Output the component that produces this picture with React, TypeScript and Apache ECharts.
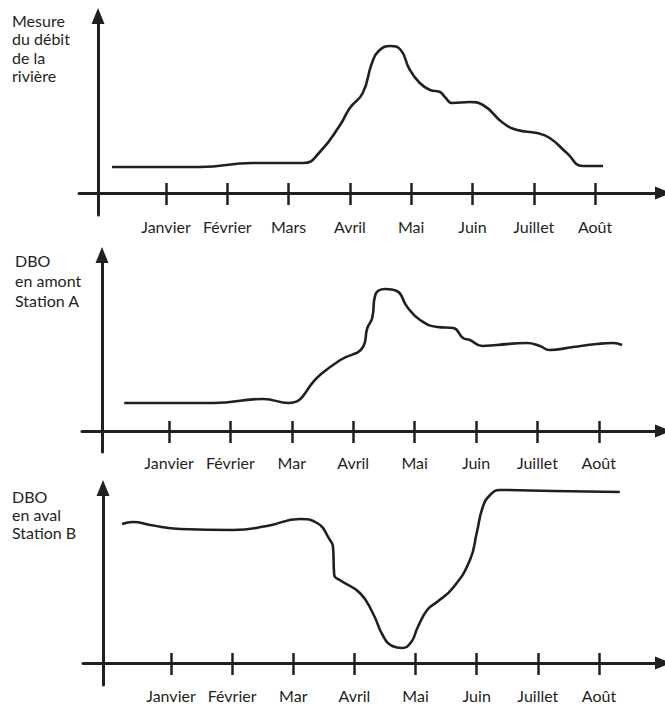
import React, { useEffect, useRef } from "react";
import * as echarts from "echarts";

// Month positions on the time axis (Janvier = 1 ... Août = 8)
const monthTicks = [1, 2, 3, 4, 5, 6, 7, 8];
const monthLabelsTop = ["Janvier", "Février", "Mars", "Avril", "Mai", "Juin", "Juillet", "Août"];
const monthLabelsLower = ["Janvier", "Février", "Mar", "Avril", "Mai", "Juin", "Juillet", "Août"];

// Panel titles
const titleFlow = "Mesure\ndu débit\nde la\nrivière";
const titleUp = "DBO\nen amont\nStation A";
const titleDown = "DBO\nen aval\nStation B";

// Panel 1: river flow (relative level)
const flowMonths = [0.12, 1.55, 2.42, 3.24, 3.51, 3.84, 4.0, 4.21, 4.36, 4.47, 4.66, 4.83, 4.97, 5.14, 5.31, 5.47, 5.55, 5.67, 5.96, 6.17, 6.5, 6.73, 7.05, 7.26, 7.54, 7.8, 8.13];
const flowLevels = [26, 26, 30, 30, 41, 68, 85, 100, 130, 142, 147, 143, 124, 110, 103, 101, 96, 90, 91, 88, 70, 63, 60, 55, 40, 27, 27];

// Panel 2: BOD upstream, station A (relative level)
const upMonths = [0.27, 1.72, 2.53, 2.94, 3.46, 3.79, 4.16, 4.23, 4.31, 4.36, 4.52, 4.71, 4.88, 5.09, 5.37, 5.63, 5.79, 5.9, 6.1, 6.34, 6.83, 7.04, 7.2, 7.58, 7.97, 8.23, 8.38];
const upLevels = [28, 28, 32, 28, 56, 71, 84, 103, 113, 136, 142, 140, 124, 111, 104, 103, 93, 91, 85, 86, 88, 85, 81, 84, 87, 88, 86];

// Panel 3: BOD downstream, station B (relative level)
const downMonths = [0.2, 0.38, 0.66, 1.15, 2.01, 2.57, 3.11, 3.39, 3.6, 3.65, 3.67, 3.76, 4.09, 4.3, 4.47, 4.62, 4.78, 4.93, 5.03, 5.19, 5.35, 5.61, 5.89, 6.0, 6.1, 6.22, 6.38, 7.25, 8.34];
const downLevels = [139, 141, 138, 134, 133, 137, 144, 140, 123, 116, 88, 83, 70, 50, 27, 17, 15, 21, 35, 53, 61, 75, 103, 130, 156, 168, 173, 172, 171];

const INK = "#231f20";
const FONT = "Lato, 'Open Sans', sans-serif";

type Panel = {
  left: number; width: number; top: number; height: number;
  xMin: number; xMax: number; yMin: number; yMax: number;
  yAxisShift: number; xAxisShift: number; labelMargin: number;
  labels: string[];
};

const panels: Panel[] = [
  { left: 79, width: 584, top: 16, height: 199, xMin: -0.419, xMax: 9.108, yMin: -22, yMax: 177, yAxisShift: 19, xAxisShift: 22, labelMargin: 25, labels: monthLabelsTop },
  { left: 82, width: 581, top: 255, height: 197, xMin: -0.417, xMax: 9.046, yMin: -21, yMax: 176, yAxisShift: 20, xAxisShift: 21, labelMargin: 23, labels: monthLabelsLower },
  { left: 83, width: 580, top: 488, height: 197, xMin: -0.439, xMax: 9.047, yMin: -22, yMax: 175, yAxisShift: 20, xAxisShift: 22, labelMargin: 24, labels: monthLabelsLower },
];

const seriesData = [
  flowMonths.map((m, i) => [m, flowLevels[i]]),
  upMonths.map((m, i) => [m, upLevels[i]]),
  downMonths.map((m, i) => [m, downLevels[i]]),
];

export default function App() {
  const ref = useRef<HTMLDivElement>(null);
  useEffect(() => {
    if (!ref.current) return;
    const chart = echarts.init(ref.current, null, { renderer: "svg" });

    const grid = panels.map((p) => ({ left: p.left, width: p.width, top: p.top, height: p.height, containLabel: false }));
    const xAxis: any[] = [];
    const yAxis: any[] = [];
    panels.forEach((p, gi) => {
      xAxis.push({
        type: "value", gridIndex: gi, min: p.xMin, max: p.xMax, position: "bottom", offset: -p.xAxisShift,
        axisLine: { show: true, onZero: false, symbol: ["none", "triangle"], symbolSize: [13, 16], lineStyle: { color: INK, width: 3 } },
        axisTick: { show: true, inside: false, length: 12, customValues: monthTicks, lineStyle: { color: INK, width: 2.5 } },
        axisLabel: {
          show: true, customValues: monthTicks, margin: p.labelMargin, fontSize: 16, fontFamily: FONT, color: INK,
          formatter: (v: number) => p.labels[Math.round(v) - 1] ?? "",
        },
        splitLine: { show: false },
      });
      xAxis.push({
        type: "value", gridIndex: gi, min: p.xMin, max: p.xMax, position: "bottom", offset: -p.xAxisShift,
        axisLine: { show: false, onZero: false },
        axisTick: { show: true, inside: true, length: 10, customValues: monthTicks, lineStyle: { color: INK, width: 2.5 } },
        axisLabel: { show: false },
        splitLine: { show: false },
      });
      yAxis.push({
        type: "value", gridIndex: gi, min: p.yMin, max: p.yMax, position: "left", offset: -p.yAxisShift,
        axisLine: { show: true, onZero: false, symbol: ["none", "triangle"], symbolSize: [13, 16], lineStyle: { color: INK, width: 3 } },
        axisTick: { show: false },
        axisLabel: { show: false },
        splitLine: { show: false },
      });
    });

    const series = seriesData.map((d, i) => ({
      type: "line",
      xAxisIndex: i * 2,
      yAxisIndex: i,
      data: d,
      smooth: 0.5,
      symbol: "none",
      showSymbol: false,
      lineStyle: { color: INK, width: 2.6 },
      clip: false,
    }));

    const textStyle = (text: string, lh: number) => ({ text, fill: INK, fontSize: 16, fontFamily: FONT, lineHeight: lh });

    chart.setOption({
      animation: false,
      backgroundColor: "#ffffff",
      grid,
      xAxis,
      yAxis,
      series,
      graphic: [
        { type: "text", left: 12, top: 11, style: textStyle(titleFlow, 18.5) },
        { type: "text", left: 15, top: 250, style: textStyle(titleUp, 20) },
        { type: "text", left: 12, top: 487, style: textStyle(titleDown, 18) },
      ],
    });
    return () => chart.dispose();
  }, []);
  return <div ref={ref} style={{ position: "fixed", left: 0, top: 0, width: 665, height: 704, background: "#fff" }} />;
}
